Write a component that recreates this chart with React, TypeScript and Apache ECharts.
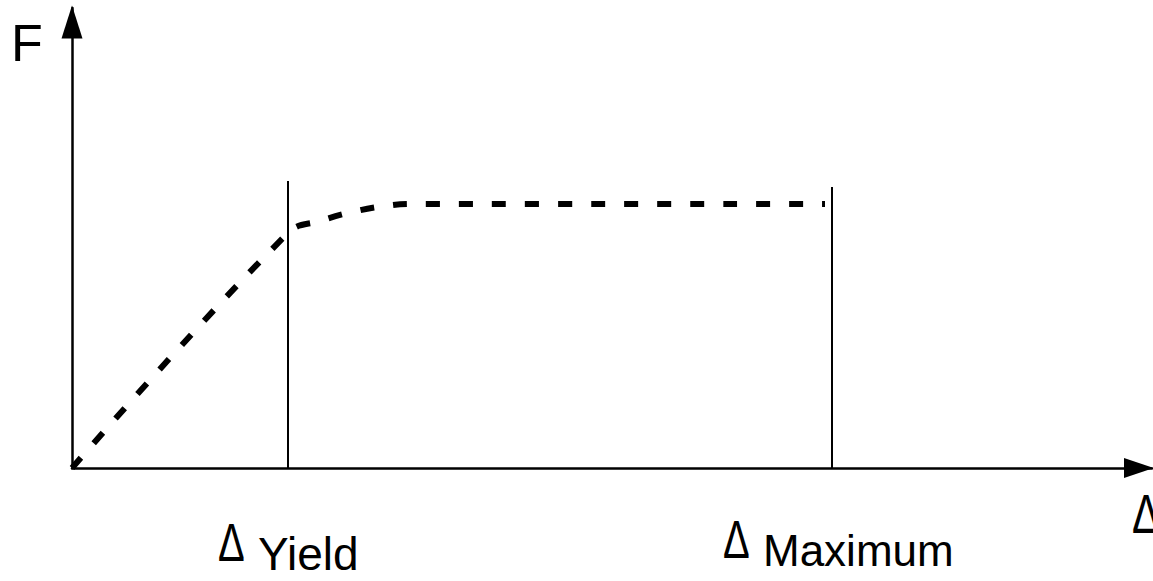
import React, { useEffect, useRef } from "react";
import * as echarts from "echarts";

// Data in plot units (x: displacement, y: force)
const curveX = [0, 217, 248, 280, 313, 340, 753];
const curveY = [0, 236, 247, 256, 262, 264, 264];
const yieldX = 216;
const yieldTop = 287;
const maxX = 760;
const maxTop = 281;
const xMax = 1080;
const yMax = 460;
const yAxisLabel = "F";
const xAxisLabel = "Δ";
const markerLabels = ["Yield", "Maximum"];

export default function App() {
  const ref = useRef<HTMLDivElement>(null);
  useEffect(() => {
    if (!ref.current) return;
    const chart = echarts.init(ref.current, null, { renderer: "svg" });
    const font = "'Liberation Sans', Arial, Helvetica, sans-serif";
    const axisCommon = {
      axisTick: { show: false },
      axisLabel: { show: false },
      splitLine: { show: false },
    };
    chart.setOption({
      animation: false,
      backgroundColor: "#ffffff",
      grid: { left: 72, right: 1, top: 8, bottom: 113 },
      xAxis: {
        type: "value",
        min: 0,
        max: xMax,
        ...axisCommon,
        axisLine: {
          show: true,
          onZero: false,
          symbol: ["none", "triangle"],
          symbolSize: [20, 30],
          symbolOffset: [0, -13],
          lineStyle: { color: "#000", width: 2.5 },
        },
      },
      yAxis: {
        type: "value",
        min: 0,
        max: yMax,
        ...axisCommon,
        axisLine: {
          show: true,
          onZero: false,
          symbol: ["none", "triangle"],
          symbolSize: [21, 33],
          symbolOffset: [0, -14],
          lineStyle: { color: "#000", width: 2.5 },
        },
      },
      series: [
        {
          type: "line",
          data: curveX.map((x, i) => [x, curveY[i]]),
          smooth: 0.4,
          showSymbol: false,
          lineStyle: { color: "#000", width: 6, type: [14, 19], cap: "butt" },
          z: 3,
        },
        {
          type: "line",
          data: [
            [yieldX, 0],
            [yieldX, yieldTop],
          ],
          showSymbol: false,
          lineStyle: { color: "#000", width: 2 },
        },
        {
          type: "line",
          data: [
            [maxX, 0],
            [maxX, maxTop],
          ],
          showSymbol: false,
          lineStyle: { color: "#000", width: 2 },
        },
      ],
      graphic: [
        {
          type: "text",
          left: 11,
          top: 17,
          style: { text: yAxisLabel, font: `52px ${font}`, fill: "#000" },
        },
        {
          type: "text",
          x: 1132,
          y: 487,
          scaleY: 1.3,
          style: { text: xAxisLabel, font: `42px ${font}`, fill: "#000" },
        },
        {
          type: "text",
          x: 218,
          y: 515,
          scaleY: 1.35,
          style: { text: xAxisLabel, font: `40px ${font}`, fill: "#000" },
        },
        {
          type: "text",
          left: 258,
          top: 531,
          style: { text: markerLabels[0], font: `46px ${font}`, fill: "#000" },
        },
        {
          type: "text",
          x: 723,
          y: 512,
          scaleY: 1.35,
          style: { text: xAxisLabel, font: `40px ${font}`, fill: "#000" },
        },
        {
          type: "text",
          left: 763,
          top: 528,
          style: { text: markerLabels[1], font: `44px ${font}`, fill: "#000" },
        },
      ],
    });
    return () => chart.dispose();
  }, []);
  return (
    <div
      ref={ref}
      style={{ position: "fixed", left: 0, top: 0, width: 1153, height: 581 }}
    />
  );
}
